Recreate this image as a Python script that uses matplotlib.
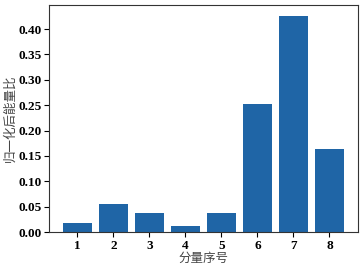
#Bar chart of normalized energy ratio per component
import numpy as np
import matplotlib
matplotlib.use('Agg')
import matplotlib.pyplot as plt

#Data
components = [1, 2, 3, 4, 5, 6, 7, 8]
energy_ratio = [0.018, 0.055, 0.038, 0.011, 0.037, 0.252, 0.426, 0.163]
y_ticks = [0.00, 0.05, 0.10, 0.15, 0.20, 0.25, 0.30, 0.35, 0.40]

fig = plt.figure(figsize=(3.6, 2.64), dpi=100)
ax = fig.add_axes([0.136, 0.121, 0.858, 0.86])

ax.bar(components, energy_ratio, width=0.8, color='#1f65a6')

ax.set_xticks(components)
ax.set_yticks(y_ticks)
ax.set_xticklabels([str(c) for c in components], fontfamily='Liberation Serif', fontweight='bold', fontsize=9.5)
ax.set_yticklabels([f"{v:.2f}" for v in y_ticks], fontfamily='Liberation Serif', fontweight='bold', fontsize=9.5)

cjk = ['Noto Sans CJK SC', 'DejaVu Sans']
ax.set_xlabel('分量序号', family=cjk, fontsize=9, color='#444444', labelpad=0)
ax.set_ylabel('归一化后能量比', family=cjk, fontsize=9, color='#444444', labelpad=1)

ax.tick_params(length=3.5, width=0.8, pad=2)
for s in ax.spines.values():
    s.set_color('#333333')

plt.savefig('out.png', dpi=100)
plt.close()
